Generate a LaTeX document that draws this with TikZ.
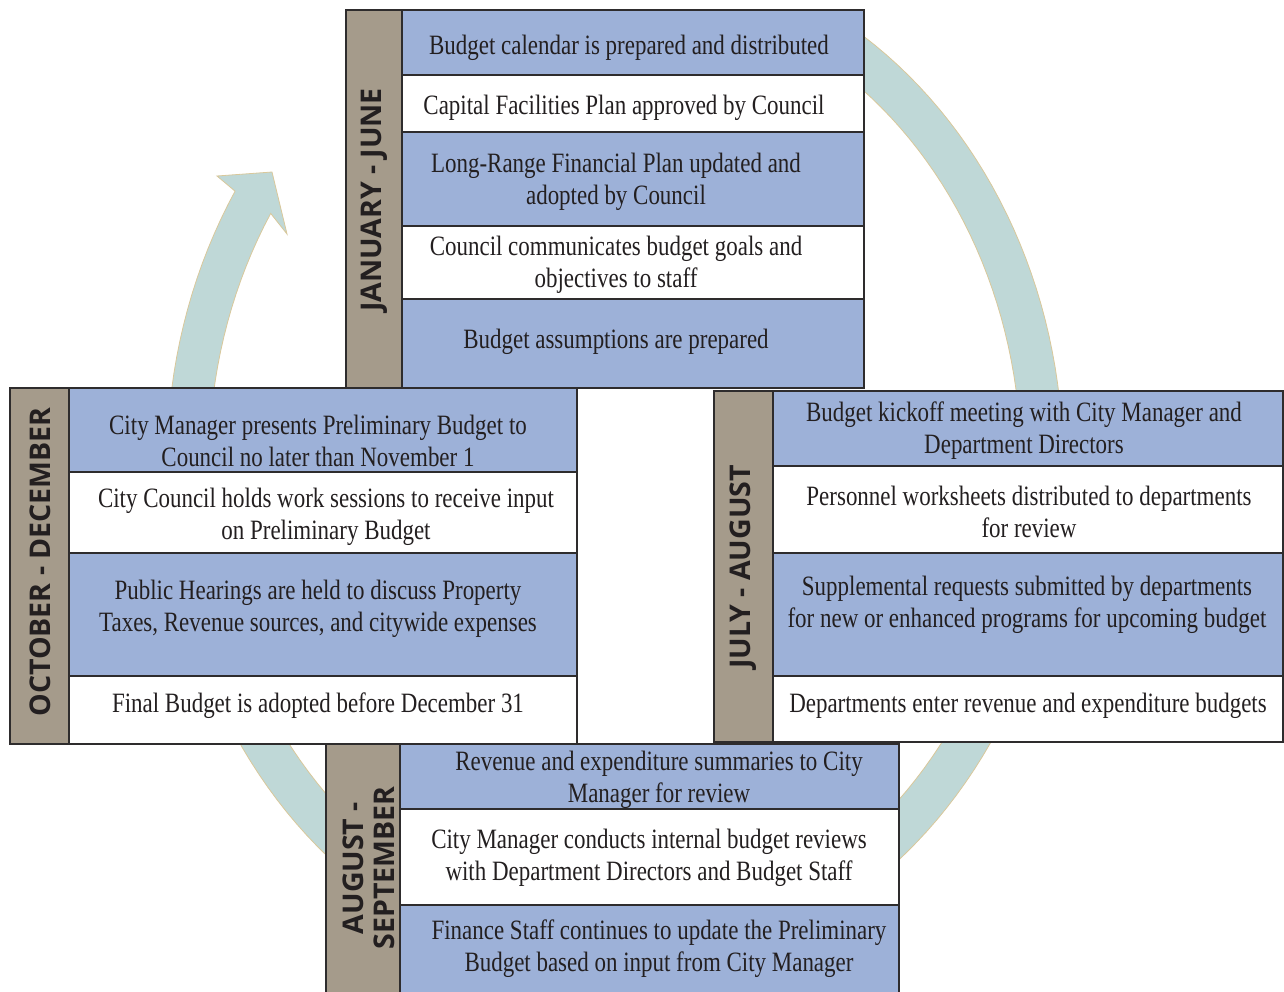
\documentclass[tikz,border=0pt]{standalone}
\usepackage{fontspec}
\setmainfont{Liberation Serif}[FakeStretch=0.82]
\newfontfamily\sidefam{Open Sans}
\definecolor{cellblue}{HTML}{9DB1D8}
\definecolor{tanbar}{HTML}{A59B8B}
\definecolor{ringfill}{HTML}{BFD8D7}
\definecolor{ringline}{HTML}{D9C89B}
\definecolor{edge}{HTML}{2E2C2D}
\definecolor{ink}{HTML}{231F20}
\tikzset{
  bluecell/.style={fill=cellblue, draw=edge, line width=1.6pt},
  whitecell/.style={fill=white, draw=edge, line width=1.6pt},
  tanbox/.style={fill=tanbar, draw=edge, line width=1.6pt},
  celltext/.style={font=\fontsize{28}{32}\selectfont, text=ink, align=center, inner sep=0pt, yshift=-3pt},
  sidetext/.style={font=\sidefam\bfseries\fontsize{28.5}{31}\selectfont, text=ink, align=center, rotate=90, inner sep=0pt},
  ring/.style={fill=ringfill, draw=ringline, line width=0.8pt}
}
\begin{document}
\begin{tikzpicture}[x=1pt,y=-1pt]
\useasboundingbox (0,0) rectangle (1284,991);
\clip (0,0) rectangle (1284,991);
% ring arrow
\path[ring] plot[domain=-60:212, samples=150] ({615+448*cos(\x)},{463+513*sin(\x)})
  -- (217,176) -- (272,172) -- (287,234)
  -- plot[domain=212:-60, samples=150] ({615+406*cos(\x)},{463+471*sin(\x)}) -- cycle;

% top box: January - June
\path[bluecell]  (402,10)  rectangle (864,75);
\path[whitecell] (402,75)  rectangle (864,132);
\path[bluecell]  (402,132) rectangle (864,226);
\path[whitecell] (402,226) rectangle (864,299);
\path[bluecell]  (402,299) rectangle (864,388);
\path[tanbox]    (346,10)  rectangle (402,388);
\node[sidetext] (jan) at (374,200) {JANUARY - JUNE};
\node[celltext] (t1) at (629,45)  {Budget calendar is prepared and distributed};
\node[celltext] (t2) at (624,105) {Capital Facilities Plan approved by Council};
\node[celltext] (t3) at (616,179) {Long-Range Financial Plan updated and\\adopted by Council};
\node[celltext] (t4) at (616,262) {Council communicates budget goals and\\objectives to staff};
\node[celltext] (t5) at (616,339) {Budget assumptions are prepared};

% left box: October - December
\path[bluecell]  (69,388) rectangle (577,472);
\path[whitecell] (69,472) rectangle (577,553);
\path[bluecell]  (69,553) rectangle (577,676);
\path[whitecell] (69,676) rectangle (577,744);
\path[tanbox]    (10,388) rectangle (69,744);
\node[sidetext] (oct) at (40,562) {OCTOBER - DECEMBER};
\node[celltext] (l1) at (318,438) {City Manager presents Preliminary Budget to\\Council no later than November 1};
\node[celltext] (l2) at (326,514) {City Council holds work sessions to receive input\\on Preliminary Budget};
\node[celltext] (l3) at (318,606) {Public Hearings are held to discuss Property\\Taxes, Revenue sources, and citywide expenses};
\node[celltext] (l4) at (318,703) {Final Budget is adopted before December 31};

% right box: July - August
\path[bluecell]  (773,391) rectangle (1283,466);
\path[whitecell] (773,466) rectangle (1283,553);
\path[bluecell]  (773,553) rectangle (1283,676);
\path[whitecell] (773,676) rectangle (1283,742);
\path[tanbox]    (714,391) rectangle (773,742);
\node[sidetext] (jul) at (743,567) {JULY - AUGUST};
\node[celltext] (r1) at (1024,428) {Budget kickoff meeting with City Manager and\\Department Directors};
\node[celltext] (r2) at (1029,509) {Personnel worksheets distributed to departments\\for review};
\node[celltext] (r3) at (1027,602) {Supplemental requests submitted by departments\\for new or enhanced programs for upcoming budget};
\node[celltext] (r4) at (1028,703) {Departments enter revenue and expenditure budgets};

% bottom box: August - September
\path[bluecell]  (400,744) rectangle (899,809);
\path[whitecell] (400,809) rectangle (899,905);
\path[bluecell]  (400,905) rectangle (899,1000);
\path[tanbox]    (326,744) rectangle (400,1000);
\node[sidetext] (aug) at (369,868) {AUGUST -\\SEPTEMBER};
\node[celltext] (b1) at (659,777) {Revenue and expenditure summaries to City\\Manager for review};
\node[celltext] (b2) at (649,855) {City Manager conducts internal budget reviews\\with Department Directors and Budget Staff};
\node[celltext] (b3) at (659,946) {Finance Staff continues to update the Preliminary\\Budget based on input from City Manager};
\end{tikzpicture}
\end{document}
